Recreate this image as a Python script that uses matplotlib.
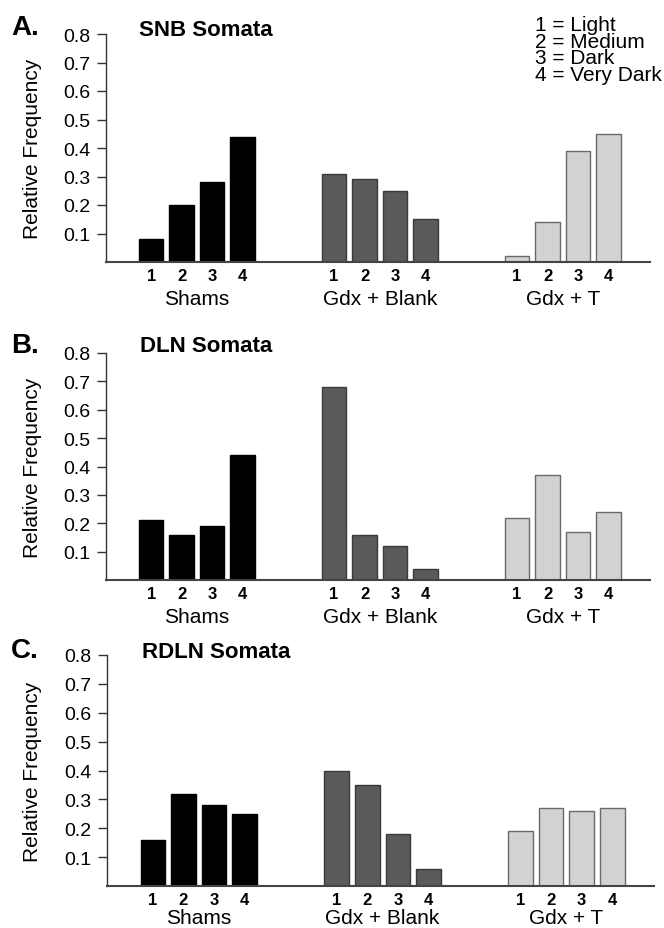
import matplotlib
matplotlib.use("Agg")
import matplotlib.pyplot as plt
import numpy as np

plt.rcParams['font.family'] = ['Liberation Sans', 'DejaVu Sans']

# ---- data ----
groups = ["Shams", "Gdx + Blank", "Gdx + T"]
categories = ["1", "2", "3", "4"]
panel_letters = ["A.", "B.", "C."]
panel_titles = ["SNB Somata", "DLN Somata", "RDLN Somata"]
snb_shams = [0.08, 0.20, 0.28, 0.44]
snb_blank = [0.31, 0.29, 0.25, 0.15]
snb_t = [0.02, 0.14, 0.39, 0.45]
dln_shams = [0.21, 0.16, 0.19, 0.44]
dln_blank = [0.68, 0.16, 0.12, 0.04]
dln_t = [0.22, 0.37, 0.17, 0.24]
rdln_shams = [0.16, 0.32, 0.28, 0.25]
rdln_blank = [0.40, 0.35, 0.18, 0.06]
rdln_t = [0.19, 0.27, 0.26, 0.27]
yticks = [0.1, 0.2, 0.3, 0.4, 0.5, 0.6, 0.7, 0.8]
legend_lines = ["1 = Light", "2 = Medium", "3 = Dark", "4 = Very Dark"]

panels = [
    [snb_shams, snb_blank, snb_t],
    [dln_shams, dln_blank, dln_t],
    [rdln_shams, rdln_blank, rdln_t],
]

W, H = 664, 929
fig = plt.figure(figsize=(W / 100, H / 100), dpi=100)

# axes boxes in pixels: (left, right, top(0.8), bottom(0))
boxes = [(106, 650, 35, 263), (106, 650, 354, 581), (107.5, 654, 656, 887)]
letter_y = [28, 346, 651]
title_pos = [(139, 31), (140, 347), (142, 652)]
group_offsets = [-26, -26, -22.5]

face_colors = ["#000000", "#5a5a5a", "#d2d2d2"]
edge_colors = ["#000000", "#3a3a3a", "#6a6a6a"]

for p, (vals, box) in enumerate(zip(panels, boxes)):
    l, r, t, b = box
    ax = fig.add_axes([l / W, 1 - b / H, (r - l) / W, (b - t) / H])
    ax.set_xlim(-1.48, 16.36)
    ax.set_ylim(0, 0.8)
    tick_pos = []
    tick_lab = []
    for g, series in enumerate(vals):
        x = g * 6 + np.arange(len(categories))
        ax.bar(x, series, width=0.8, color=face_colors[g],
               edgecolor=edge_colors[g], linewidth=1.0, zorder=2)
        tick_pos.extend(x)
        tick_lab.extend(categories)
        ax.annotate(groups[g], xy=(x.mean(), 0), xycoords=('data', 'axes fraction'),
                    xytext=(0, group_offsets[p]), textcoords='offset points',
                    ha='center', va='center', fontsize=15)
    ax.set_xticks(tick_pos)
    ax.set_xticklabels(tick_lab, fontsize=12, fontweight='bold')
    ax.tick_params(axis='x', length=0, pad=4.5)
    ax.set_yticks(yticks)
    ax.set_yticklabels([f"{v:.1f}" for v in yticks], fontsize=14)
    ax.tick_params(axis='y', length=6.5, width=1.0, pad=5, direction='out',
                   color='#333333')
    for s in ['top', 'right']:
        ax.spines[s].set_visible(False)
    ax.spines['left'].set_color('#333333')
    ax.spines['bottom'].set_color('#444444')
    ax.spines['left'].set_linewidth(1.0)
    ax.spines['bottom'].set_linewidth(1.5)

    fig.text(11 / W, 1 - letter_y[p] / H, panel_letters[p], fontsize=20,
             fontweight='bold', ha='left', va='center')
    tx, ty = title_pos[p]
    fig.text(tx / W, 1 - ty / H, panel_titles[p], fontsize=16,
             fontweight='bold', ha='left', va='center')
    fig.text(33 / W, 1 - ((t + b) / 2) / H, "Relative Frequency", fontsize=15,
             rotation=90, ha='center', va='center')

fig.text(535 / W, 1 - 16 / H, "\n".join(legend_lines), fontsize=15,
         ha='left', va='top', linespacing=0.84)

fig.savefig("out.png", dpi=100)
